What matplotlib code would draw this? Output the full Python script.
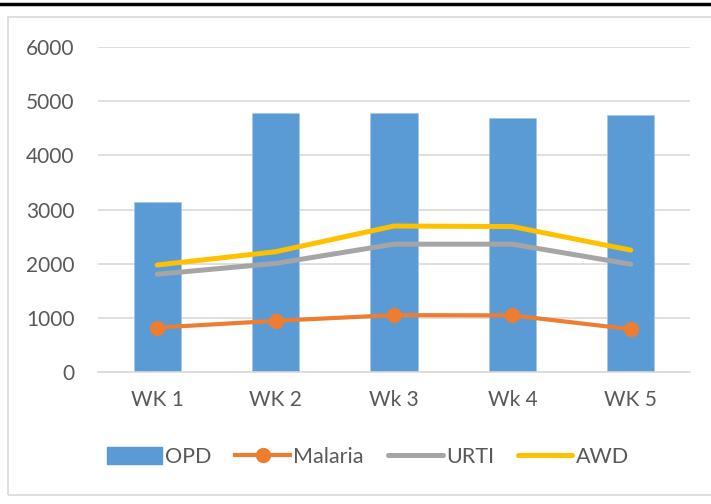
import matplotlib.pyplot as plt
from matplotlib.patches import Rectangle
from matplotlib.lines import Line2D
import numpy as np

weeks = ["WK 1", "WK 2", "Wk 3", "Wk 4", "WK 5"]
opd = [3130, 4775, 4780, 4685, 4745]
malaria = [820, 945, 1050, 1045, 790]
urti = [1805, 2005, 2360, 2360, 1990]
awd = [1975, 2220, 2695, 2685, 2250]

plt.rcParams['font.family'] = ['Lato', 'DejaVu Sans']
grey = "#595959"

fig = plt.figure(figsize=(7.11, 5.04), dpi=100)
ax = fig.add_axes([98/711, 1 - 372/504, 592/711, 325/504])

x = np.arange(len(weeks))
ax.bar(x, opd, width=0.4, color="#5b9bd5", edgecolor="#a9c8ea", linewidth=0.6,
       label="OPD", zorder=2)
ax.plot(x, malaria, color="#ed7d31", lw=3, marker="o", ms=10,
        solid_capstyle="round", label="Malaria", zorder=3)
ax.plot(x, urti, color="#a5a5a5", lw=3.6, solid_capstyle="round",
        solid_joinstyle="round", label="URTI", zorder=3)
ax.plot(x, awd, color="#ffc000", lw=3.6, solid_capstyle="round",
        solid_joinstyle="round", label="AWD", zorder=3)

ax.set_xlim(-0.5, len(weeks) - 0.5)
ax.set_ylim(0, 6000)
ax.set_yticks(range(0, 6001, 1000))
ax.set_xticks(x)
ax.set_xticklabels(weeks)
ax.grid(axis="y", color="#d9d9d9", lw=1.2, zorder=0)
ax.set_axisbelow(True)
for s in ["top", "right", "left"]:
    ax.spines[s].set_visible(False)
ax.spines["bottom"].set_color("#d9d9d9")
ax.spines["bottom"].set_linewidth(1.2)
ax.tick_params(axis="both", length=0, labelsize=15, colors=grey)
ax.tick_params(axis="y", pad=17)
ax.tick_params(axis="x", pad=13)

handles = [
    Rectangle((0, 0), 1, 1, color="#5b9bd5"),
    Line2D([], [], color="#ed7d31", lw=3, marker="o", ms=10),
    Line2D([], [], color="#a5a5a5", lw=3.6, solid_capstyle="round"),
    Line2D([], [], color="#ffc000", lw=3.6, solid_capstyle="round"),
]
leg = fig.legend(handles, ["OPD", "Malaria", "URTI", "AWD"], ncol=4,
                 loc="center", bbox_to_anchor=(368/711, 1 - 457/504),
                 frameon=False, fontsize=15.5, handlelength=2.55,
                 handletextpad=0.15, columnspacing=1.1, handleheight=0.85)
for t in leg.get_texts():
    t.set_color(grey)

# chart border and top rule
fig.add_artist(Rectangle((8/711, 1 - 495/504), 720/711, 478/504,
                         transform=fig.transFigure, fill=False,
                         edgecolor="#d9d9d9", lw=1.2))
fig.add_artist(Line2D([0, 1], [1 - 4/504, 1 - 4/504], transform=fig.transFigure,
                      color="black", lw=2.5))

fig.savefig("out.png", dpi=100)
